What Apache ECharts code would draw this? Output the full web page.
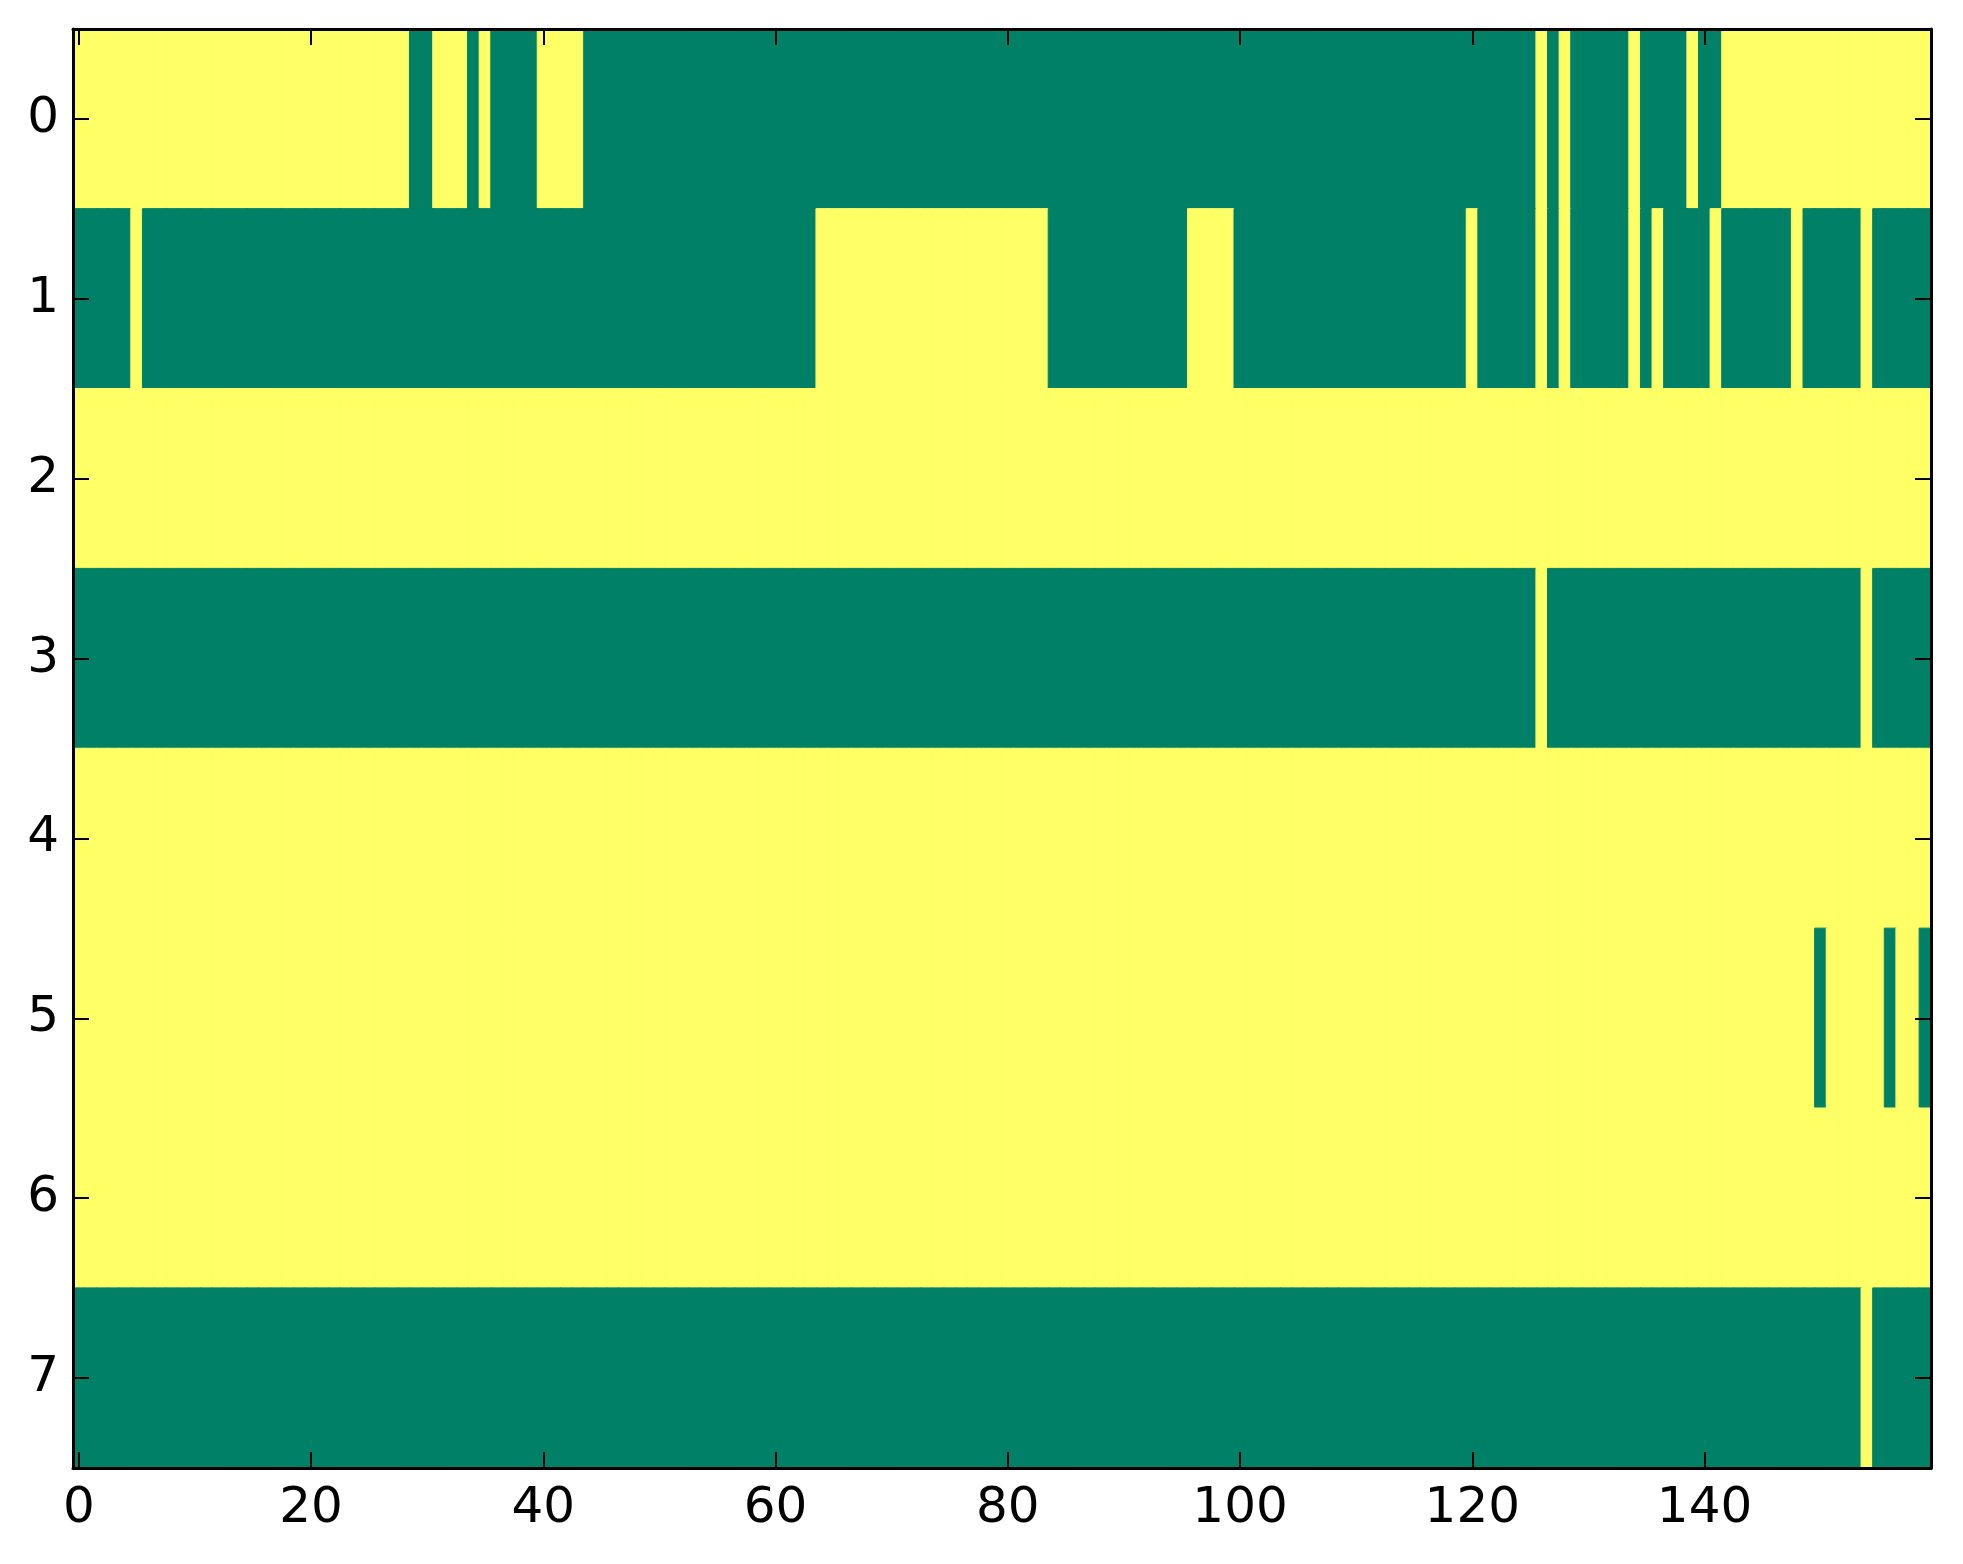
<!DOCTYPE html>
<html>
<head>
<meta charset="utf-8">
<script src="https://cdn.jsdelivr.net/npm/echarts@6/dist/echarts.min.js"></script>
<style>
  html, body { margin: 0; padding: 0; background: #fff; }
  #main-chart { width: 1963px; height: 1564px; }
</style>
</head>
<body>
<div id="main-chart"></div>
<script>
// cell columns 0..159, rows 0..7
const columns = Array.from({ length: 160 }, (_, i) => String(i))
const rows = ['0', '1', '2', '3', '4', '5', '6', '7']

// runs of low (0, green) cells per row, [first, last] column; everything else is 1 (yellow)
const lowRow0 = [[29, 30], [34, 34], [36, 39], [44, 125], [127, 127], [129, 133], [135, 138], [140, 141]]
const lowRow1 = [[0, 4], [6, 63], [84, 95], [100, 119], [121, 125], [127, 127], [129, 133], [135, 135], [137, 140], [142, 147], [149, 153], [155, 159]]
const lowRow2 = []
const lowRow3 = [[0, 125], [127, 153], [155, 159]]
const lowRow4 = []
const lowRow5 = [[150, 150], [156, 156], [159, 159]]
const lowRow6 = []
const lowRow7 = [[0, 153], [155, 159]]

const lowRuns = [lowRow0, lowRow1, lowRow2, lowRow3, lowRow4, lowRow5, lowRow6, lowRow7]

const GREEN = '#008066'
const YELLOW = '#ffff66'
const FONT = 'DejaVu Sans'

const cells = []
lowRuns.forEach((runs, r) => {
  columns.forEach((_, c) => {
    const low = runs.some(([a, b]) => c >= a && c <= b)
    const color = low ? GREEN : YELLOW
    cells.push({
      value: [c, r, low ? 0 : 1],
      // same-colour border hides the hairline seams between cells
      itemStyle: { color: color, borderColor: color, borderWidth: 1 }
    })
  })
})

const tickStyle = { show: true, inside: true, length: 16, lineStyle: { color: '#000', width: 2 } }
const lineStyle = { show: true, lineStyle: { color: '#000', width: 3 } }

const chart = echarts.init(document.querySelector('#main-chart'))
chart.setOption({
  animation: false,
  backgroundColor: '#fff',
  grid: { left: 73, right: 32, top: 29, bottom: 96, containLabel: false },
  xAxis: [{
    type: 'category',
    data: columns,
    position: 'bottom',
    z: 10,
    axisLine: lineStyle,
    axisTick: Object.assign({ alignWithLabel: true, interval: 19 }, tickStyle),
    axisLabel: { interval: 19, color: '#000', fontFamily: FONT, fontSize: 50, margin: 16 },
    splitLine: { show: false }
  }, {
    type: 'category',
    data: columns,
    position: 'top',
    z: 10,
    axisLine: lineStyle,
    axisTick: Object.assign({ alignWithLabel: true, interval: 19 }, tickStyle),
    axisLabel: { show: false },
    splitLine: { show: false }
  }],
  yAxis: [{
    type: 'category',
    data: rows,
    inverse: true,
    position: 'left',
    z: 10,
    axisLine: lineStyle,
    axisTick: Object.assign({ alignWithLabel: true, interval: 0 }, tickStyle),
    axisLabel: { interval: 0, color: '#000', fontFamily: FONT, fontSize: 50, margin: 14 },
    splitLine: { show: false }
  }, {
    type: 'category',
    data: rows,
    inverse: true,
    position: 'right',
    z: 10,
    axisLine: lineStyle,
    axisTick: Object.assign({ alignWithLabel: true, interval: 0 }, tickStyle),
    axisLabel: { show: false },
    splitLine: { show: false }
  }],
  series: [{
    type: 'heatmap',
    xAxisIndex: 0,
    yAxisIndex: 0,
    data: cells,
    emphasis: { disabled: true },
    z: 1
  }]
})
</script>
</body>
</html>
